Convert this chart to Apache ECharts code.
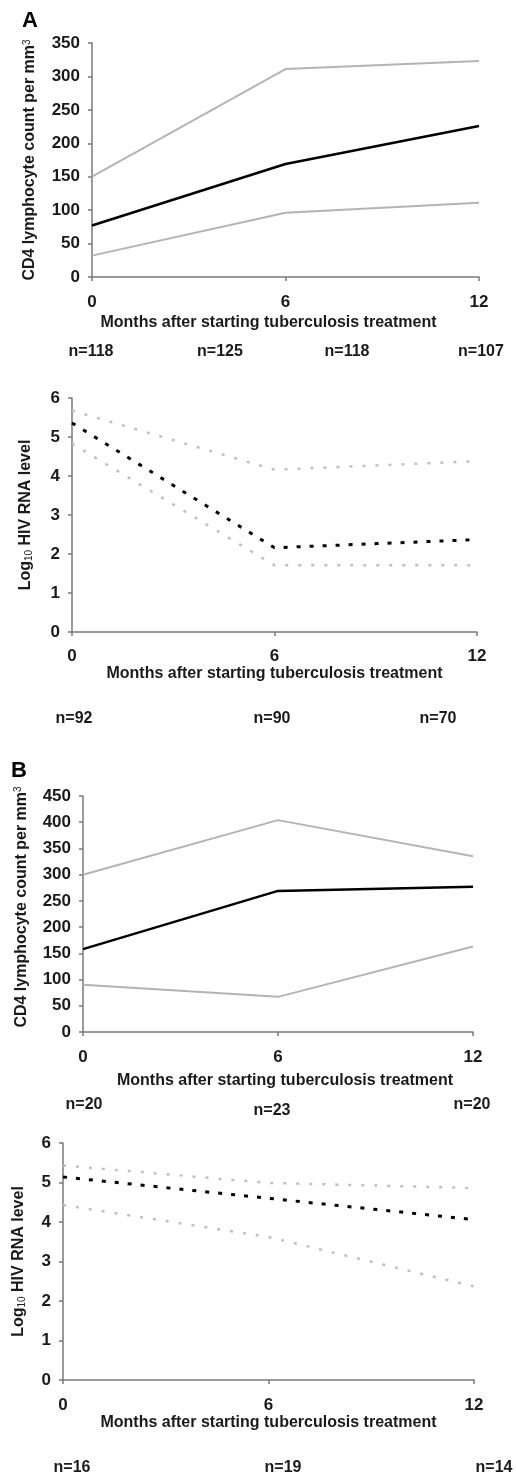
<!DOCTYPE html>
<html>
<head>
<meta charset="utf-8">
<script src="https://cdn.jsdelivr.net/npm/echarts@6/dist/echarts.min.js"></script>
<style>
html,body{margin:0;padding:0;background:#fff;}
#main{width:516px;height:1477px;}
</style>
</head>
<body>
<div id="main"></div>
<script>
// ---------------- data ----------------
const months = [0, 6, 12];
const xTicks = [0, 6, 12];

// Panel A – CD4
const cd4A_upper  = [150, 311, 323];
const cd4A_median = [77, 169, 226];
const cd4A_lower  = [32, 96, 111];
const cd4A_n = ['n=118', 'n=125', 'n=118', 'n=107'];

// Panel A – HIV RNA
const rnaA_upper  = [5.68, 4.16, 4.38];
const rnaA_median = [5.36, 2.16, 2.37];
const rnaA_lower  = [4.83, 1.71, 1.71];
const rnaA_n = ['n=92', 'n=90', 'n=70'];

// Panel B – CD4
const cd4B_upper  = [300, 404, 335];
const cd4B_median = [158, 269, 277];
const cd4B_lower  = [90, 67, 163];
const cd4B_n = ['n=20', 'n=23', 'n=20'];

// Panel B – HIV RNA
const rnaB_upper  = [5.43, 4.99, 4.86];
const rnaB_median = [5.14, 4.60, 4.06];
const rnaB_lower  = [4.43, 3.62, 2.37];
const rnaB_n = ['n=16', 'n=19', 'n=14'];

const xTitle = 'Months after starting tuberculosis treatment';
const cd4Title = 'CD4 lymphocyte count per mm{sup|3}';
const rnaTitle = 'Log{sub|10} HIV RNA level';

// ---------------- layout / style ----------------
const FONT = "'Liberation Sans', Arial, sans-serif";
const TXT = '#1a1a1a';
const AXIS = '#7a7a7a';

const grids = [
  {left: 92, top: 43,   width: 387, height: 234},
  {left: 72, top: 398,  width: 405, height: 234},
  {left: 83, top: 796,  width: 390, height: 236},
  {left: 63, top: 1143, width: 411, height: 237}
];
const yCfg = [
  {max: 350, interval: 50, name: cd4Title, gap: 54, pad: [0,0,0,0]},
  {max: 6, interval: 1, name: rnaTitle, gap: 38, pad: [0,0,0,0]},
  {max: 450, interval: 50, name: cd4Title, gap: 52, pad: [0,0,0,14]},
  {max: 6, interval: 1, name: rnaTitle, gap: 36, pad: [0,0,0,0]}
];
const xCfg = [
  {labelMargin: 17, nameGap: 38, pad: [0,34,0,0]},
  {labelMargin: 16, nameGap: 31, pad: [0,0,0,0]},
  {labelMargin: 17, nameGap: 41, pad: [0,0,0,14]},
  {labelMargin: 17, nameGap: 32, pad: [0,0,0,0]}
];

const richText = {
  sup: {fontSize: 10, fontWeight: 'normal', fontFamily: FONT, color: TXT, verticalAlign: 'top', lineHeight: 10, padding: [0,0,8,0]},
  sub: {fontSize: 10, fontWeight: 'normal', fontFamily: FONT, color: TXT, verticalAlign: 'bottom', lineHeight: 10, padding: [6,0,0,0]}
};

const xAxes = grids.map((g, i) => ({
  type: 'value', gridIndex: i, min: 0, max: 12, interval: 6,
  axisLine: {show: true, onZero: false, lineStyle: {color: AXIS, width: 1.5}},
  axisTick: {show: true, inside: false, length: 4, lineStyle: {color: AXIS, width: 1.5}},
  splitLine: {show: false},
  axisLabel: {show: true, margin: xCfg[i].labelMargin, fontSize: 17, fontWeight: 'bold', fontFamily: FONT, color: TXT,
    formatter: v => xTicks.includes(v) ? String(v) : ''},
  name: xTitle, nameLocation: 'middle', nameGap: xCfg[i].nameGap,
  nameTextStyle: {fontSize: 16, fontWeight: 'bold', fontFamily: FONT, color: TXT, padding: xCfg[i].pad}
}));

const yAxes = grids.map((g, i) => ({
  type: 'value', gridIndex: i, min: 0, max: yCfg[i].max, interval: yCfg[i].interval,
  axisLine: {show: true, onZero: false, lineStyle: {color: AXIS, width: 1.5}},
  axisTick: {show: true, inside: false, length: 4, lineStyle: {color: AXIS, width: 1.5}},
  splitLine: {show: false},
  axisLabel: {show: true, margin: 12, fontSize: 17, fontWeight: 'bold', fontFamily: FONT, color: TXT},
  name: yCfg[i].name, nameLocation: 'middle', nameRotate: 90, nameGap: yCfg[i].gap,
  nameTextStyle: {fontSize: 16, fontWeight: 'bold', fontFamily: FONT, color: TXT, padding: yCfg[i].pad, rich: richText}
}));

function pairs(vals) { return months.map((m, k) => [m, vals[k]]); }

const solidGray = {color: '#b4b4b4', width: 2};
const solidBlack = {color: '#000', width: 2.5};
const dashGray = {color: '#c0c0c0', width: 2.5, type: [3, 10]};
const dashBlack = {color: '#000', width: 3, type: [4, 9]};

function line(idx, vals, style, name) {
  return {type: 'line', name: name, xAxisIndex: idx, yAxisIndex: idx, data: pairs(vals),
    symbol: 'none', lineStyle: style, silent: true, animation: false, z: style.color === '#000' ? 3 : 2};
}

const series = [
  line(0, cd4A_upper, solidGray, 'A CD4 upper'),
  line(0, cd4A_lower, solidGray, 'A CD4 lower'),
  line(0, cd4A_median, solidBlack, 'A CD4 median'),
  line(1, rnaA_upper, dashGray, 'A RNA upper'),
  line(1, rnaA_lower, dashGray, 'A RNA lower'),
  line(1, rnaA_median, dashBlack, 'A RNA median'),
  line(2, cd4B_upper, solidGray, 'B CD4 upper'),
  line(2, cd4B_lower, solidGray, 'B CD4 lower'),
  line(2, cd4B_median, solidBlack, 'B CD4 median'),
  line(3, rnaB_upper, dashGray, 'B RNA upper'),
  line(3, rnaB_lower, dashGray, 'B RNA lower'),
  line(3, rnaB_median, dashBlack, 'B RNA median')
];

// n-label placements (pixel centres)
const nPos = [
  {labels: cd4A_n, xs: [91, 220, 347, 481], ys: [352, 352, 352, 352]},
  {labels: rnaA_n, xs: [74, 272, 438], ys: [719, 719, 719]},
  {labels: cd4B_n, xs: [84, 272, 472], ys: [1105, 1111, 1105]},
  {labels: rnaB_n, xs: [72, 283, 494], ys: [1468, 1468, 1468]}
];
const graphics = [];
nPos.forEach(p => p.labels.forEach((t, k) => {
  graphics.push({type: 'text', x: p.xs[k], y: p.ys[k],
    style: {text: t, fontSize: 16, fontWeight: 'bold', fontFamily: FONT, fill: TXT, align: 'center', verticalAlign: 'middle'}});
}));
graphics.push({type: 'text', x: 22, y: 21, style: {text: 'A', fontSize: 22, fontWeight: 'bold', fontFamily: FONT, fill: '#000', align: 'left', verticalAlign: 'middle'}});
graphics.push({type: 'text', x: 11, y: 771, style: {text: 'B', fontSize: 22, fontWeight: 'bold', fontFamily: FONT, fill: '#000', align: 'left', verticalAlign: 'middle'}});

const chart = echarts.init(document.getElementById('main'), null, {renderer: 'canvas'});
chart.setOption({
  backgroundColor: '#fff',
  animation: false,
  grid: grids.map(g => Object.assign({containLabel: false}, g)),
  xAxis: xAxes,
  yAxis: yAxes,
  series: series,
  graphic: graphics
});
</script>
</body>
</html>
